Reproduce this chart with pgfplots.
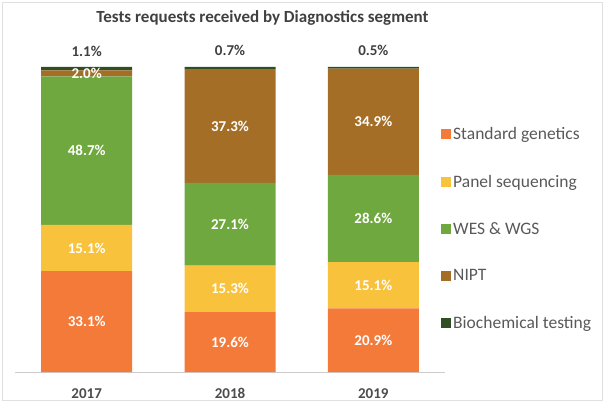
\documentclass[border=0pt]{standalone}
\usepackage{fontspec}
\setmainfont{Carlito}
\usepackage{pgfplots}
\pgfplotsset{compat=1.18}
\definecolor{cstd}{HTML}{F47A3A}
\definecolor{cpanel}{HTML}{F9C23C}
\definecolor{cwes}{HTML}{70A840}
\definecolor{cnipt}{HTML}{A56E27}
\definecolor{cbio}{HTML}{2F4F22}
\begin{document}
\begin{tikzpicture}
\begin{axis}[
  name=ax,
  scale only axis, width=430pt, height=305pt,
  ybar stacked, bar width=91pt,
  xmin=-0.5, xmax=2.5, ymin=0, ymax=100,
  enlargelimits=false, clip=false,
  hide y axis,
  axis x line*=bottom,
  x axis line style={black!20},
  xtick=data, xticklabels={2017,2018,2019}, major tick length=0pt,
  xticklabel style={font=\fontsize{15}{18}\selectfont\bfseries, text=black!70, yshift=-13pt},
  /pgf/number format/assume math mode=true,
  nodes near coords={\pgfmathprintnumber[fixed,fixed zerofill,precision=1]{\pgfplotspointmeta}\%},
  every node near coord/.append style={font=\fontsize{15}{18}\selectfont\bfseries, text=white,
    anchor=center},
  legend style={at={(rel axis cs:1,0.47)}, anchor=west, xshift=-7pt, draw=none, fill=none,
    font=\fontsize{17.5}{20}\selectfont, text=black!65, row sep=29.8pt},
  legend cell align=left,
  legend image code/.code={\fill[#1,draw=none] (0pt,-5pt) rectangle (10pt,5pt);},
]
% Standard genetics
\addplot[fill=cstd, draw=none] coordinates {(0,33.1) (1,19.6) (2,20.9)};
\addlegendentry{Standard genetics}
% Panel sequencing
\addplot[fill=cpanel, draw=none] coordinates {(0,15.1) (1,15.3) (2,15.1)};
\addlegendentry{Panel sequencing}
% WES & WGS
\addplot[fill=cwes, draw=none] coordinates {(0,48.7) (1,27.1) (2,28.6)};
\addlegendentry{WES \& WGS}
% NIPT
\addplot[fill=cnipt, draw=none] coordinates {(0,2.0) (1,37.3) (2,34.9)};
\addlegendentry{NIPT}
% Biochemical testing
\addplot[fill=cbio, draw=none,
  every node near coord/.style={font=\fontsize{15}{18}\selectfont\bfseries, text=black!75, anchor=south, yshift=9pt}]
  coordinates {(0,1.1) (1,0.7) (2,0.5)};
\addlegendentry{Biochemical testing}
% page frame and title, placed from the axis box
\coordinate (bbsw) at (rel axis cs:-0.034884,-0.101639);
\coordinate (bbne) at (rel axis cs:1.372093,1.219672);
\coordinate (frsw) at (rel axis cs:-0.02907,-0.09344);
\coordinate (frne) at (rel axis cs:1.36628,1.21148);
\coordinate (ttl) at (rel axis cs:0.5756,1.16066);
\end{axis}
\draw[black!12, line width=1pt] (frsw) rectangle (frne);
\node[font=\fontsize{17}{20}\selectfont\bfseries, text=black!75] at (ttl) {Tests requests received by Diagnostics segment};
\pgfresetboundingbox
\path[use as bounding box] (bbsw) rectangle (bbne);
\end{tikzpicture}
\end{document}
